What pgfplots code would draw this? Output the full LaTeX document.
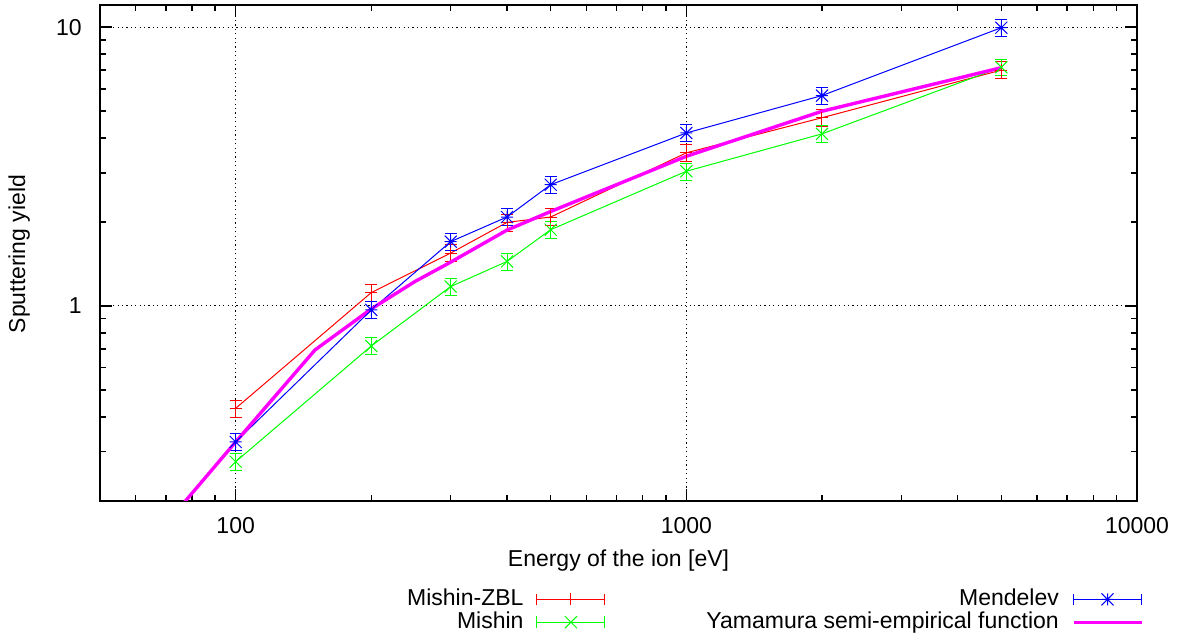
\documentclass[border=0pt]{standalone}
\usepackage{fontspec}
\setmainfont{Liberation Sans}
\usepackage{pgfplots}
\pgfplotsset{compat=1.18}

\pgfdeclareplotmark{gpx}{%
 \pgfpathmoveto{\pgfqpoint{-\pgfplotmarksize}{-\pgfplotmarksize}}\pgfpathlineto{\pgfqpoint{\pgfplotmarksize}{\pgfplotmarksize}}%
 \pgfpathmoveto{\pgfqpoint{-\pgfplotmarksize}{\pgfplotmarksize}}\pgfpathlineto{\pgfqpoint{\pgfplotmarksize}{-\pgfplotmarksize}}%
 \pgfusepathqstroke}
\pgfdeclareplotmark{gpstar}{%
 \pgfpathmoveto{\pgfqpoint{-\pgfplotmarksize}{0pt}}\pgfpathlineto{\pgfqpoint{\pgfplotmarksize}{0pt}}%
 \pgfpathmoveto{\pgfqpoint{0pt}{-\pgfplotmarksize}}\pgfpathlineto{\pgfqpoint{0pt}{\pgfplotmarksize}}%
 \pgfpathmoveto{\pgfqpoint{-\pgfplotmarksize}{-\pgfplotmarksize}}\pgfpathlineto{\pgfqpoint{\pgfplotmarksize}{\pgfplotmarksize}}%
 \pgfpathmoveto{\pgfqpoint{-\pgfplotmarksize}{\pgfplotmarksize}}\pgfpathlineto{\pgfqpoint{\pgfplotmarksize}{-\pgfplotmarksize}}%
 \pgfusepathqstroke}

\definecolor{gpred}{RGB}{255,0,0}
\definecolor{gpgreen}{RGB}{0,255,0}
\definecolor{gpblue}{RGB}{0,0,255}
\definecolor{gpmag}{RGB}{255,0,255}

\pgfplotsset{
  errleg/.style={legend image code/.code={%
    \draw[##1, mark=none] (0pt,0pt) -- (34pt,0pt);
    \draw[##1, mark=none] (0pt,-2.9pt) -- (0pt,2.9pt) (34pt,-2.9pt) -- (34pt,2.9pt);
    \draw[##1, only marks] plot coordinates {(17pt,0pt)};
  }},
  lineleg/.style={legend image code/.code={\draw[##1] (0pt,0pt) -- (34pt,0pt);}},
}

\pgfplotstableread{
x y
100 0.429
200 1.116
300 1.547
400 1.993
500 2.083
1000 3.54
2000 4.73
5000 7.01
}\mishinzbl
\pgfplotstableread{
x y
100 0.276
200 0.718
300 1.173
400 1.443
500 1.876
1000 3.04
2000 4.14
5000 7.18
}\mishin
\pgfplotstableread{
x y
100 0.325
200 0.967
300 1.70
400 2.083
500 2.72
1000 4.17
2000 5.68
5000 9.95
}\mendelev
\pgfplotstableread{
x y
50 0.087
100 0.325
150 0.695
200 0.975
250 1.223
300 1.435
400 1.87
500 2.18
1000 3.44
2000 4.99
5000 7.15
}\yamamura

\begin{document}
\begin{tikzpicture}[font=\fontsize{11.5}{13.8}\selectfont]
\useasboundingbox (-50pt,-66.65pt) rectangle (546pt,250.35pt);
\begin{axis}[
  scale only axis,
  width=518.5pt, height=247.85pt,
  xmode=log, ymode=log,
  xmin=50, xmax=10000, ymin=0.2, ymax=12,
  xtick={100,1000,10000}, xticklabels={100,1000,10000},
  ytick={1,10}, yticklabels={1,10},
  minor xtick={60,70,80,90,200,300,400,500,600,700,800,900,2000,3000,4000,5000,6000,7000,8000,9000},
  minor ytick={0.3,0.4,0.5,0.6,0.7,0.8,0.9,2,3,4,5,6,7,8,9},
  tick align=inside,
  major tick length=6pt, minor tick length=3pt,
  every tick/.style={black, line width=0.8pt},
  axis line style={line width=1pt},
  grid=major,
  major grid style={black, line width=0.5pt, dash pattern=on 0.6pt off 1.6pt},
  xticklabel style={anchor=north, inner sep=0pt, yshift=-8pt},
  yticklabel style={anchor=east, inner sep=0pt, xshift=-9pt},
  xlabel={Energy of the ion [eV]},
  ylabel={Sputtering yield},
  every axis x label/.style={at={(axis description cs:0.5,-0.1332)}, anchor=base},
  every axis y label/.style={at={(axis description cs:-0.0723,0.4977)}, anchor=base, rotate=90},
  legend columns=2,
  transpose legend=true,
  legend plot pos=right,
  legend cell align=right,
  legend style={at={(axis description cs:1.0064,-0.1753)}, anchor=north east, draw=none, fill=none, inner sep=0pt,
    nodes={text height=8.2pt, text depth=2.2pt, inner sep=0.5pt},
    /tikz/every odd column/.append style={column sep=6pt},
    /tikz/every even column/.append style={column sep=50pt}},
  every axis plot/.append style={line width=0.5pt},
]
\addplot[gpred, errleg, mark=+, mark size=3pt, mark options={solid, line width=0.5pt},
  error bars/.cd, y dir=both, y fixed relative=0.07,
  error bar style={line width=0.5pt}, error mark options={rotate=90, mark size=3pt, line width=0.5pt}]
  table[x=x,y=y] {\mishinzbl};
\addlegendentry{Mishin-ZBL}
\addplot[gpgreen, errleg, mark=gpx, mark size=3pt, mark options={solid, line width=0.5pt},
  error bars/.cd, y dir=both, y fixed relative=0.07,
  error bar style={line width=0.5pt}, error mark options={rotate=90, mark size=3pt, line width=0.5pt}]
  table[x=x,y=y] {\mishin};
\addlegendentry{Mishin}
\addplot[gpblue, errleg, mark=gpstar, mark size=3pt, mark options={solid, line width=0.5pt},
  error bars/.cd, y dir=both, y fixed relative=0.07,
  error bar style={line width=0.5pt}, error mark options={rotate=90, mark size=3pt, line width=0.5pt}]
  table[x=x,y=y] {\mendelev};
\addlegendentry{Mendelev}
\addplot[gpmag, lineleg, line width=1.7pt, mark=none]
  table[x=x,y=y] {\yamamura};
\addlegendentry{Yamamura semi-empirical function}
\end{axis}
\end{tikzpicture}
\end{document}
